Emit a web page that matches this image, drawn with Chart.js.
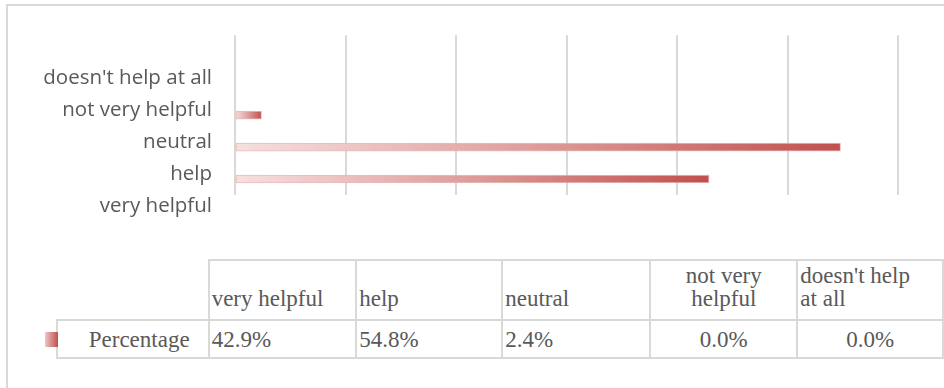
<!DOCTYPE html>
<html>
<head>
<meta charset="utf-8">
<script src="https://cdn.jsdelivr.net/npm/chart.js@4"></script>
<style>
  body { margin: 0; background: #fff; width: 944px; height: 388px; overflow: hidden; position: relative; }
  #frame { position: absolute; left: 6px; top: 4px; width: 960px; height: 400px; border: 2px solid #d9d9d9; box-sizing: border-box; }
  #chartBox { position: absolute; left: 0; top: 0; width: 944px; height: 240px; }
  #dataTable { position: absolute; left: 56px; top: 259px; border-collapse: collapse; font-family: "Liberation Serif", "Times New Roman", serif; font-size: 23px; color: #595959; table-layout: fixed; }
  #dataTable td { border: 2px solid #d9d9d9; padding: 0 2px; line-height: 23px; white-space: nowrap; overflow: hidden; }
  #dataTable tr.head td { height: 49px; padding-bottom: 9px; vertical-align: bottom; }
  #dataTable tr.vals td { height: 36px; padding-top: 0; vertical-align: middle; }
  #dataTable td.blank { border: none; border-bottom: 2px solid #d9d9d9; }
  #dataTable td.series { text-align: right; padding-right: 18px; }
  #dataTable td.c { text-align: center; }
  #marker { position: absolute; left: 45px; top: 332px; width: 13px; height: 15px; background: linear-gradient(to right, #eec6c5, #c0504d); }
</style>
</head>
<body>
<div id="frame"></div>
<div id="chartBox"><canvas id="chart"></canvas></div>
<table id="dataTable"></table>
<div id="marker"></div>
<script>
const categories = ['very helpful', 'help', 'neutral', 'not very helpful', "doesn't help at all"];
const seriesName = 'Percentage';
const percentages = [42.9, 54.8, 2.4, 0.0, 0.0];
const tableHeaders = ['very helpful', 'help', 'neutral', 'not very<br>helpful', "doesn't help<br>at all"];
const centered = [false, false, false, true, true];
const headerCentered = [false, false, false, true, false];
const colWidths = [152, 148, 147, 149, 148, 146];

// data table under the chart
const table = document.getElementById('dataTable');
let html = '<colgroup>' + colWidths.map(w => '<col style="width:' + w + 'px">').join('') + '</colgroup>';
html += '<tr class="head"><td class="blank"></td>';
tableHeaders.forEach((h, i) => {
    html += '<td' + (headerCentered[i] ? ' class="c"' : '') + '>' + h + '</td>';
});
html += '</tr><tr class="vals"><td class="series">' + seriesName + '</td>';
percentages.forEach((v, i) => {
    html += '<td' + (centered[i] ? ' class="c"' : '') + '>' + v.toFixed(1) + '%</td>';
});
html += '</tr>';
table.innerHTML = html;

function barGradient(context) {
    const chart = context.chart;
    const area = chart.chartArea;
    if (!area) return '#c0504d';
    const x0 = chart.scales.x.getPixelForValue(0);
    const x1 = chart.scales.x.getPixelForValue(context.parsed ? context.parsed.x : 1);
    if (x1 - x0 < 1) return '#c0504d';
    const g = chart.ctx.createLinearGradient(x0, 0, x1, 0);
    g.addColorStop(0, '#f6e0e0');
    g.addColorStop(0.5, '#dd9c9a');
    g.addColorStop(1, '#c0504d');
    return g;
}

new Chart(document.getElementById('chart'), {
    type: 'bar',
    data: {
        labels: categories,
        datasets: [{
            label: seriesName,
            data: percentages,
            backgroundColor: barGradient,
            borderColor: 'rgba(230, 170, 170, 0.8)',
            borderWidth: 1,
            borderSkipped: false,
            barThickness: 8
        }]
    },
    options: {
        indexAxis: 'y',
        responsive: true,
        maintainAspectRatio: false,
        animation: false,
        layout: { padding: { top: 35, right: 46, bottom: 45, left: 0 } },
        plugins: {
            legend: { display: false },
            tooltip: { enabled: false }
        },
        scales: {
            x: {
                min: 0,
                max: 60,
                ticks: { display: false, stepSize: 10 },
                grid: {
                    color: '#d9d9d9',
                    lineWidth: 2,
                    drawTicks: false
                },
                border: { display: false }
            },
            y: {
                reverse: true,
                afterFit: (scale) => { scale.width = 235; },
                ticks: {
                    color: '#595959',
                    font: { family: '"Open Sans", "Noto Sans", sans-serif', size: 20.5 },
                    padding: 23,
                    labelOffset: 27
                },
                grid: { display: false, drawTicks: false },
                border: { display: false }
            }
        }
    }
});
</script>
</body>
</html>
